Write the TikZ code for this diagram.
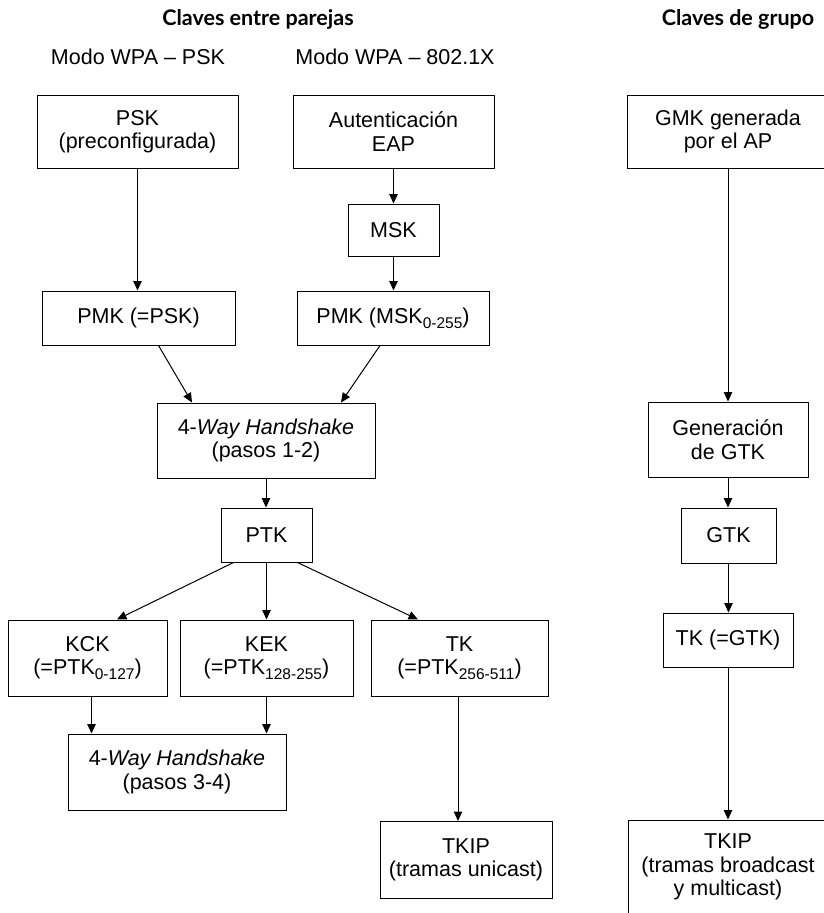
\documentclass[tikz,border=0pt]{standalone}
\usepackage{fontspec}
\setmainfont{Liberation Sans}
\newfontfamily\titlefont{Lato}
\usetikzlibrary{arrows.meta,calc}
\newcommand\sbs[1]{\raisebox{-0.45ex}{\fontsize{15.5}{15.5}\selectfont #1}}
\begin{document}
\begin{tikzpicture}[x=1pt,y=-1pt,
 box/.style={draw, line width=1pt, align=center, inner sep=0pt, font=\fontsize{21.5}{23.5}\selectfont},
 arr/.style={line width=1pt, -{Triangle[length=9.5pt,width=8.5pt]}},
 lbl/.style={inner sep=0pt, font=\fontsize{21.5}{23.5}\selectfont},
 ttl/.style={inner sep=0pt, font=\titlefont\bfseries\fontsize{21.5}{24}\selectfont}]
\clip (0,0) rectangle (824,913);
\fill[white] (0,0) rectangle (824,913);

% titles
\node[ttl] (t1) at (258,19) {Claves entre parejas};
\node[ttl] (t2) at (738,19) {Claves de grupo};
\node[lbl] (m1) at (138,57) {Modo WPA – PSK};
\node[lbl] (m2) at (395,57) {Modo WPA – 802.1X};

% pairwise keys
\node[box, minimum width=201, minimum height=73] (psk) at (137.5,131.5) {PSK\\(preconfigurada)};
\node[box, minimum width=201, minimum height=73] (eap) at (393.5,131.5) {Autenticación\\EAP};
\node[box, minimum width=91, minimum height=52] (msk) at (393.5,230) {MSK};
\node[box, minimum width=193, minimum height=54] (pmk1) at (138.5,318) {PMK (=PSK)};
\node[box, minimum width=192, minimum height=54] (pmk2) at (393,318) {PMK (MSK\sbs{0-255})};
\node[box, minimum width=218, minimum height=75] (hs1) at (266,440.5) {4-\textit{Way Handshake}\\(pasos 1-2)};
\node[box, minimum width=91, minimum height=54] (ptk) at (266.5,535) {PTK};
\node[box, minimum width=159, minimum height=76] (kck) at (87.5,658) {KCK\\(=PTK\sbs{0-127})};
\node[box, minimum width=173, minimum height=76] (kek) at (266.5,658) {KEK\\(=PTK\sbs{128-255})};
\node[box, minimum width=177, minimum height=76] (tk) at (459.5,658) {TK\\(=PTK\sbs{256-511})};
\node[box, minimum width=218, minimum height=76] (hs2) at (177,772) {4-\textit{Way Handshake}\\(pasos 3-4)};
\node[box, minimum width=172, minimum height=77] (tkipu) at (466,860) {TKIP\\(tramas unicast)};

% group keys
\node[box, minimum width=202, minimum height=73] (gmk) at (728,131.5) {GMK generada\\por el AP};
\node[box, minimum width=160, minimum height=75] (gen) at (728,439.5) {Generación\\de GTK};
\node[box, minimum width=95, minimum height=55] (gtk) at (728.5,535.5) {GTK};
\node[box, minimum width=130, minimum height=54] (tkg) at (728,640) {TK (=GTK)};
\node[box, minimum width=200, minimum height=94] (tkipb) at (728,867) {TKIP\\(tramas broadcast\\y multicast)};

% connectors
\draw[arr] (psk.south) -- (psk.south |- pmk1.north);
\draw[arr] (eap.south) -- (eap.south |- msk.north);
\draw[arr] (msk.south) -- (msk.south |- pmk2.north);
\draw[arr] ([xshift=20pt]pmk1.south) -- ([xshift=-74pt]hs1.north);
\draw[arr] ([xshift=-13pt]pmk2.south) -- ([xshift=75pt]hs1.north);
\draw[arr] (hs1.south) -- (hs1.south |- ptk.north);
\draw[arr] ([xshift=-33pt]ptk.south) -- ([xshift=29.5pt]kck.north);
\draw[arr] (ptk.south) -- (ptk.south |- kek.north);
\draw[arr] ([xshift=31pt]ptk.south) -- ([xshift=-41.5pt]tk.north);
\draw[arr] ([xshift=4pt]kck.south) coordinate (k1) -- (k1 |- hs2.north);
\draw[arr] (kek.south) -- (kek.south |- hs2.north);
\draw[arr] ([xshift=-1.5pt]tk.south) coordinate (k2) -- (k2 |- tkipu.north);
\draw[arr] (gmk.south) -- (gmk.south |- gen.north);
\draw[arr] (gen.south) -- (gen.south |- gtk.north);
\draw[arr] (gtk.south) -- (gtk.south |- tkg.north);
\draw[arr] (tkg.south) -- (tkg.south |- tkipb.north);
\end{tikzpicture}
\end{document}
